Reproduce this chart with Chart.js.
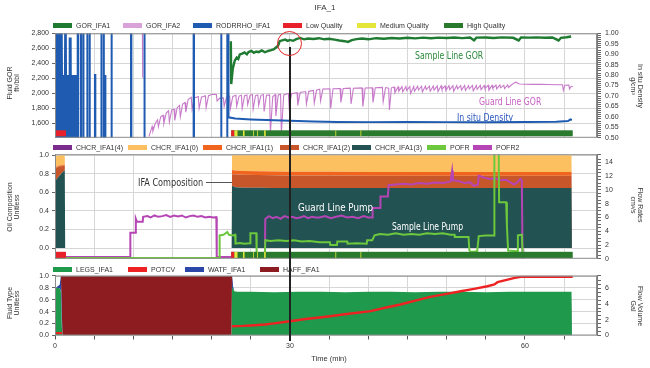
<!DOCTYPE html>
<html>
<head>
<meta charset="utf-8">
<script src="https://cdn.jsdelivr.net/npm/chart.js@4.4.1/dist/chart.umd.min.js"></script>
<style>
body{margin:0;background:#fff;width:650px;height:368px;overflow:hidden;position:relative;font-family:"Liberation Sans",Arial,sans-serif}
canvas{position:absolute;left:0}
.leg{position:absolute;font-size:7px;color:#333;line-height:7px;white-space:nowrap;z-index:2}
.leg i{position:absolute;top:1px;width:19px;height:5px}
.leg span{position:absolute;top:0}
.ytitle{position:absolute;font-size:7px;color:#333;line-height:7px;text-align:center;white-space:nowrap;z-index:2}
.note{position:absolute;font-family:"Liberation Sans Narrow","DejaVu Sans Condensed",Arial,sans-serif;font-size:11px;line-height:11px;white-space:nowrap;transform-origin:0 50%;z-index:3}
</style>
</head>
<body>
<canvas id="c1" width="650" height="124" style="top:22px"></canvas>
<canvas id="c2" width="650" height="121" style="top:146px"></canvas>
<canvas id="c3" width="650" height="101" style="top:267px"></canvas>
<script>
// ---- data (time in minutes) ----
const gorTicks = [1600, 1800, 2000, 2200, 2400, 2600, 2800];
const unitTicks = [0, 0.2, 0.4, 0.6, 0.8, 1.0];
const timeLabels = [0, 30, 60];

// GOR_IFA1 [time, ft3/bbl]
const gorIfa1 = [[22.45,2695],[22.5,2125],[22.7,2330],[22.95,2435],[23.2,2478],[23.4,2460],[23.6,2520],[23.9,2530],[24.2,2545],[24.5,2520],[24.7,2550],[25.1,2565],[25.4,2540],[25.7,2558],[26.0,2550],[26.4,2573],[26.8,2548],[27.2,2565],[27.6,2575],[27.9,2586],[28.3,2617],[28.5,2640],[28.7,2695],[29.0,2705],[29.4,2716],[29.7,2700],[30.0,2712],[30.4,2700],[30.8,2722],[31.3,2738],[31.8,2720],[32.3,2730],[33,2725],[33.7,2735],[34.4,2720],[35,2728],[35.7,2715],[36.3,2705],[37.0,2695],[37.4,2686],[37.9,2710],[38.5,2722],[39.2,2730],[40,2720],[41,2735],[42,2728],[43,2738],[44,2730],[45,2740],[46,2732],[47,2742],[48,2735],[49,2742],[50,2738],[51,2745],[52,2736],[53,2744],[53.5,2706],[53.8,2742],[55,2745],[56,2738],[57,2746],[58.5,2740],[59.2,2705],[59.5,2744],[60.5,2742],[61.5,2746],[62.5,2740],[63.5,2745],[64.3,2705],[64.6,2740],[65.3,2748],[65.9,2758]];

// GOR_IFA2 [time, ft3/bbl]
const gorIfa2 = [[11.15,2900],[11.2,2210],[11.2,null],
[12.0,1430],[12.4,1560],[12.5,1500],[12.8,1600],[13.1,1650],[13.2,1560],[13.5,1690],[13.8,1710],[13.9,1600],[14.2,1740],[14.5,1770],[14.6,1620],[14.9,1780],[15.2,1790],[15.3,1640],[15.6,1810],[15.9,1840],[16.0,1690],[16.3,1860],[16.6,1880],[16.7,1750],
[17.0,1920],[17.4,1950],[17.5,1790],[17.8,1940],[18.3,1960],[18.4,1800],[18.7,1950],[19.2,1970],[19.3,1810],[19.6,1970],[20.1,1990],[20.6,1985],[20.7,1900],[21.0,1935],[21.5,1940],[21.6,1830],[21.9,1950],[22.3,1965],[22.4,1800],[22.7,1960],
[23.1,1975],[23.2,1830],[23.5,1965],[23.8,1975],[23.9,1800],[24.2,1970],[24.5,1980],[24.6,1850],[24.9,1975],[25.2,1985],[25.3,1790],[25.6,1970],[25.9,1980],[26.0,1840],[26.3,1975],[26.6,1985],[26.7,1760],[27.0,1975],[27.4,1980],[27.5,1470],[27.8,1960],[28.1,1985],[28.2,1700],[28.5,1980],[28.8,1990],[28.9,1460],[29.2,1980],
[29.8,2000],[29.9,1820],[30.2,1995],[30.9,2010],[31.0,1840],[31.3,2012],[32.0,2025],[32.1,1860],[32.4,2028],[33.0,2040],[33.1,1870],[33.4,2045],[33.8,2055],[33.9,1900],[34.2,2058],[35.1,2062],[35.2,1800],[35.5,2062],[36.4,2066],[36.5,1880],[36.8,2066],[37.7,2070],[37.8,1860],[38.1,2070],[39.2,2074],[39.3,1825],[39.6,2072],[40.5,2076],[40.6,1880],[40.9,2076],[41.8,2080],[41.9,1890],[42.2,2078],[42.6,2070],[42.7,1780],[42.95,2075],
[43.3,2085],[43.4,2010],[43.8,2088],[43.9,2030],[44.3,2090],[44.4,2020],[44.8,2092],[44.9,2040],[45.3,2090],[45.4,2000],[45.8,2094],[45.9,2030],[46.3,2095],[46.4,2045],[46.8,2096],[46.9,2020],[47.3,2098],[47.4,2050],[47.8,2097],[47.9,2030],[48.3,2100],[48.4,2045],[48.8,2100],[48.9,2025],[49.3,2102],[49.4,2055],[49.8,2100],[49.9,2040],[50.3,2104],[50.4,2050],[50.8,2103],[50.9,2030],[51.3,2105],[51.4,2060],[51.8,2104],[51.9,2045],[52.3,2106],[52.4,2040],[52.8,2105],[52.9,2060],[53.3,2107],[53.4,2035],[53.8,2106],[53.9,2055],[54.3,2108],[54.4,2050],[54.8,2107],[54.9,2065],[55.3,2110],[55.4,2045],[55.8,2108],[55.9,2070],[56.3,2110],[56.4,2060],[56.8,2112],[56.9,2075],[57.3,2110],[57.4,2065],[57.8,2114],[57.9,2080],[58.3,2115],
[58.8,2150],[59.3,2125],[60,2122],[61,2120],[62,2120],[63,2118],[64,2116],[64.8,2115],[64.9,2040],[65.1,2110],[65.6,2112],[65.7,2060],[65.9,2095],[66.1,2090]];

// RODRRHO_IFA1 [time, g/cm3] (values off scale are clipped)
const rodrrhoIfa1 = [[0.25,0.45],[0.25,1.05],[0.35,0.45],[0.4,1.05],[0.5,0.45],[0.55,1.05],[0.65,0.45],[0.7,1.05],[0.8,0.45],[0.85,1.05],[0.95,0.45],
[1.0,0.8],[1.05,0.45],[1.1,0.8],[1.15,0.45],[1.2,0.8],[1.25,0.45],[1.3,1.05],[1.35,0.45],[1.4,1.05],[1.45,0.45],
[1.5,0.8],[1.55,0.45],[1.6,0.8],[1.65,0.45],[1.7,0.8],[1.75,0.45],[1.8,0.8],[1.85,0.45],[1.9,0.98],[1.95,0.45],[2.0,0.98],[2.05,0.45],
[2.1,0.8],[2.15,0.45],[2.2,0.8],[2.25,0.45],[2.3,0.8],[2.35,0.45],[2.4,0.8],[2.45,0.45],[2.5,0.8],[2.55,0.45],[2.6,0.8],[2.65,0.45],[2.7,0.8],[2.72,0.45],
[2.9,0.45],[2.9,1.05],[2.95,1.05],[2.95,0.45],[3.3,0.45],[3.3,1.05],[3.35,1.05],[3.35,0.45],[3.6,0.45],[3.6,1.05],[3.65,1.05],[3.65,0.45],
[4.1,0.45],[4.1,1.05],[4.15,1.05],[4.15,0.45],[4.4,0.45],[4.4,1.05],[4.45,1.05],[4.45,0.45],[5.1,0.45],[5.1,0.8],[5.15,0.8],[5.15,0.45],
[5.9,0.45],[5.9,1.05],[5.95,1.05],[5.95,0.45],[6.2,0.45],[6.2,1.05],[6.25,1.05],[6.25,0.45],[6.4,0.45],[6.4,0.8],[6.45,0.8],[6.45,0.45],
[7.2,0.45],[7.2,1.05],[7.25,1.05],[7.25,0.45],[9.7,0.45],[9.7,1.05],[9.75,1.05],[9.75,0.45],[11.4,0.45],[11.4,1.05],[11.45,1.05],[11.45,0.45],
[17.7,0.45],[17.7,1.05],[17.75,1.05],[17.75,0.45],[21.2,0.45],[21.2,1.05],[21.25,1.05],[21.25,0.45],
[22.0,0.45],[22.0,1.05],[22.1,1.05],[22.15,0.598],[23,0.592],[25,0.588],[27,0.585],[30,0.582],[33,0.578],[36,0.576],[40,0.575],[45,0.576],[50,0.575],[55,0.575],[60,0.576],[64,0.577],[65.5,0.58],[65.8,0.588],[66,0.585]];

// quality strip [start, end, level 0 low / 1 medium / 2 high]
const qualitySegments = [[0,0.1,1],[0.1,1.4,0],[22.5,66.1,2],[22.5,22.9,0],[22.9,23.3,1],[24.0,24.2,1],[25.3,25.4,1],[25.8,25.9,1],[26.7,26.9,1],[35.8,35.9,1],[39.0,39.1,1]];

// oil composition (stacked, unitless)
const compTime = [0, 0.3, 0.6, 0.9, 1.25, 1.3, 22.55, 22.6, 23.0, 24, 26, 28, 30, 35, 40, 45, 50, 55, 60, 65.95, 66.0];
const chcr3 = [0.72,0.75,0.78,0.81,0.84,0,0,0.67,0.655,0.65,0.648,0.647,0.646,0.645,0.645,0.645,0.645,0.645,0.645,0.645,0];
const chcr2 = [0.14,0.12,0.1,0.07,0.05,0,0,0.125,0.14,0.14,0.138,0.136,0.135,0.135,0.134,0.134,0.134,0.134,0.134,0.134,0];
const chcr1 = [0.01,0.01,0.01,0.01,0.01,0,0,0.045,0.04,0.04,0.04,0.04,0.04,0.04,0.04,0.04,0.04,0.04,0.04,0.04,0];
const chcr0 = [0.12,0.11,0.11,0.11,0.1,0,0,0.16,0.165,0.17,0.174,0.177,0.179,0.18,0.181,0.181,0.181,0.181,0.181,0.181,0];
const chcr4 = [0,0,0,0,0,0,0,0,0,0,0,0,0,0,0,0,0,0,0,0,0];

// POFR / POFR2 [time, cm3/s]
const pofr = [[0,0.12],[21.0,0.12],[21.02,3.4],[21.5,3.5],[22.0,3.9],[22.2,3.5],[22.8,3.4],[23.0,3.5],[23.05,2.2],[23.6,2.3],[24.2,2.2],[24.9,2.25],[24.95,3.7],[25.7,3.7],[25.75,0.1],[26.8,0.1],[26.85,2.7],[27.5,2.6],[28.5,2.7],[29.5,2.6],[30.5,2.7],[31.5,2.5],[32.5,2.6],[33.8,2.4],[35.1,2.4],[35.15,2.0],[36.0,2.0],[36.05,2.5],[37.3,2.5],[37.35,2.2],[38.5,2.25],[39.8,2.2],[39.85,2.7],[40.5,2.7],[40.8,3.4],[41.5,3.6],[42.5,3.5],[43.5,3.7],[44.5,3.5],[45.5,3.6],[46.5,3.5],[47.5,3.7],[48.5,3.6],[49.5,3.7],[50.5,3.5],[51.0,3.5],[51.05,3.15],[52.8,3.15],[52.9,1.25],[53.1,1.0],[53.9,1.1],[54.1,3.3],[55.0,3.4],[56.05,3.4],[56.1,16],[56.65,16],[56.7,8.2],[57.6,8.2],[57.7,4.8],[57.85,1.2],[59.0,1.1],[59.1,3.4],[59.6,3.5],[59.7,0.9]];
const pofr2 = [[0,0.25],[9.6,0.25],[9.62,3.8],[10.3,3.8],[10.32,5.8],[10.45,5.4],[11.2,5.4],[11.25,6.1],[11.8,6.2],[12.2,6.0],[12.7,6.3],[13.2,6.1],[13.7,6.2],[14.2,6.35],[14.7,6.1],[15.2,6.3],[15.7,6.15],[16.2,6.3],[16.7,6.0],[17.2,6.2],[17.7,6.3],[18.2,6.1],[18.7,6.2],[19.2,6.0],[19.7,6.1],[20.2,6.0],[20.6,6.05],[20.65,0.25],[26.8,0.25],[26.85,5.8],[27.3,6.2],[27.8,5.9],[28.3,6.1],[28.8,5.8],[29.3,6.2],[29.8,6.0],[30.3,6.1],[30.8,5.9],[31.3,6.0],[31.8,6.2],[32.3,5.9],[32.8,6.1],[33.3,6.0],[33.8,6.0],[34.5,6.2],[35.2,5.9],[35.9,6.1],[36.6,6.3],[37.3,6.0],[38.0,6.1],[38.7,5.9],[39.4,6.2],[40.0,6.0],[40.5,6.0],[40.55,7.4],[41.5,7.4],[41.55,9.05],[42.5,9.05],[42.6,10.7],[43.5,10.8],[44.5,10.9],[45.5,10.8],[46.5,11.0],[47.5,10.9],[48.5,11.1],[49.5,11.0],[50.5,11.2],[50.7,12.8],[50.8,11.4],[51.5,11.3],[52.3,11.0],[53.0,11.1],[53.5,10.6],[54.0,10.8],[54.1,12.1],[54.8,11.8],[55.5,11.6],[56.2,11.7],[56.9,11.4],[57.6,11.5],[58.3,11.0],[58.6,10.8],[59.0,11.1],[59.4,11.6],[59.6,11.4],[59.7,0]];

// fluid type (stacked, unitless)
const fluidTime = [0, 0.3, 0.6, 0.75, 0.85, 0.95, 22.55, 22.6, 22.7, 22.9, 23.3, 25, 28, 31, 34, 37, 40, 43, 46, 49, 52, 55, 58, 61, 64, 65.95, 66.0];
const legsIfa1 = [0.78,0.8,0.79,0.74,0.2,0,0,0.82,0.78,0.74,0.73,0.73,0.725,0.73,0.73,0.725,0.73,0.73,0.725,0.73,0.73,0.725,0.73,0.73,0.73,0.73,0];
const watfIfa1 = [0,0.02,0.06,0.26,0.3,0,0,0.18,0.06,0,0,0,0,0,0,0,0,0,0,0,0,0,0,0,0,0,0];
const haffIfa1 = [0,0,0,0,0.5,1,1,0,0,0,0,0,0,0,0,0,0,0,0,0,0,0,0,0,0,0,0];

// POTCV [time, gal]
const potcv = [[0,0.3],[0.9,0.3],[1.0,null],[22.6,1.18],[24,1.22],[25,1.28],[26.8,1.4],[28,1.55],[30,1.82],[32,2.1],[33.8,2.3],[35.1,2.45],[37,2.7],[40.3,3.1],[42,3.5],[44.1,3.95],[46,4.45],[47.9,4.93],[50,5.3],[51.8,5.64],[53.5,5.95],[55.2,6.28],[56.1,6.5],[56.5,6.79],[57.8,7.13],[58.7,7.35],[59.5,7.48],[66.1,7.48]];

const markerTime = 30;
const markerGor = 2660;

// ---- colours ----
const C = {
  gor1:'#1f7a32', gor2:'#c77ac9', gor2Leg:'#d9a3d9', rho:'#1f5bb0',
  low:'#e8202a', med:'#e6e63a', high:'#2a7a2e',
  chcr4:'#7b2d8e', chcr0:'#fdc060', chcr1:'#f0641e', chcr2:'#c7572a', chcr3:'#235252',
  pofr:'#6cc83c', pofr2:'#b545b5',
  legs:'#1f9a4c', potcv:'#ee2222', watf:'#2b48a8', haff:'#8c1c20'
};
const qualityColors = [C.low, C.med, C.high];

Chart.defaults.font.family = '"Liberation Sans", Arial, sans-serif';
Chart.defaults.font.size = 7;
Chart.defaults.color = '#333';

const outline = {
  id: 'outline',
  afterDatasetsDraw(chart) {
    const {ctx, chartArea: a} = chart;
    ctx.save();
    ctx.strokeStyle = '#8a8a8a';
    ctx.lineWidth = 1;
    ctx.strokeRect(a.left + 0.5, a.top + 0.5, a.width - 1, a.height - 1);
    ctx.restore();
  }
};

const qualityStrip = {
  id: 'quality',
  afterDatasetsDraw(chart, args, opts) {
    if (!opts.show) return;
    const {ctx, chartArea: a} = chart;
    const x = chart.scales.x;
    ctx.save();
    qualitySegments.forEach(([t0, t1, lvl]) => {
      const x0 = Math.max(x.getPixelForValue(t0), a.left + 1);
      const x1 = x.getPixelForValue(t1);
      ctx.fillStyle = qualityColors[lvl];
      ctx.fillRect(x0, a.bottom - opts.top, x1 - x0, opts.top - opts.bottom);
    });
    ctx.restore();
  }
};

function pts(arr) { return arr.map(p => ({x: p[0], y: p[1]})); }
function series(times, vals) { return vals.map((v, i) => ({x: times[i], y: v})); }

function line(label, data, color, width, axis) {
  return {label, data, borderColor: color, borderWidth: width, pointRadius: 0,
    fill: false, yAxisID: axis, tension: 0, spanGaps: false};
}
function area(label, data, color, fill) {
  return {label, data, backgroundColor: color, borderColor: 'rgba(0,0,0,0)', borderWidth: 0,
    pointRadius: 0, fill, yAxisID: 'yL', tension: 0};
}

function near(v, step) { return Math.abs(v / step - Math.round(v / step)) < 1e-6; }

function timeAxis(labels) {
  return {
    type: 'linear', min: 0, max: 69.2,
    afterBuildTicks: s => { s.ticks = s.ticks.filter(t => near(t.value, 5)); },
    ticks: labels
      ? {stepSize: 5, autoSkip: false, maxRotation: 0, padding: 2, callback: v => timeLabels.includes(v) ? String(v) : ''}
      : {stepSize: 5, display: false},
    grid: {color: '#d6d6d6', tickColor: '#555', tickLength: labels ? 4 : 0, drawTicks: !!labels},
    border: {display: false},
    afterFit: s => { s.height = labels ? 32.5 : 0; }
  };
}
function leftAxis(min, max, ticks, fmt, stacked) {
  return {
    position: 'left', min, max, stacked,
    afterBuildTicks: s => { s.ticks = ticks.map(v => ({value: v})); },
    ticks: {callback: fmt, padding: 3, autoSkip: false},
    grid: {color: '#d6d6d6', tickColor: '#666', tickLength: 3},
    border: {color: '#7a7a7a'},
    afterFit: s => { s.width = 55; }
  };
}
function rightAxis(min, max, step, every, fmt) {
  return {
    position: 'right', min, max,
    ticks: {stepSize: step, autoSkip: false, padding: 4, callback: v => near(v, every) ? fmt(v) : ''},
    grid: {drawOnChartArea: false, color: '#666', tickLength: 4},
    border: {color: '#7a7a7a'},
    afterFit: s => { s.width = 53; }
  };
}
function options(padding, scales, quality) {
  return {
    responsive: false, animation: false, events: [],
    layout: {padding},
    plugins: {legend: {display: false}, tooltip: {enabled: false}, quality},
    scales
  };
}

// ---- panel 1: GOR and density ----
const c1 = new Chart(document.getElementById('c1'), {
  type: 'line',
  data: {datasets: [
    line('GOR_IFA1', pts(gorIfa1), C.gor1, 2.4, 'yL'),
    line('RODRRHO_IFA1', pts(rodrrhoIfa1), C.rho, 2, 'yR'),
    line('GOR_IFA2', pts(gorIfa2), C.gor2, 1.1, 'yL')
  ]},
  options: options({top: 11.3, bottom: 6.5, left: 0, right: 0}, {
    x: timeAxis(false),
    yL: leftAxis(1410, 2800, gorTicks, v => v.toLocaleString('en-US'), false),
    yR: rightAxis(0.5, 1.0, 0.01, 0.05, v => v.toFixed(2))
  }, {show: true, top: 7.5, bottom: 1.5}),
  plugins: [qualityStrip, outline]
});

// ---- panel 2: oil composition and flow rates ----
const c2 = new Chart(document.getElementById('c2'), {
  type: 'line',
  data: {datasets: [
    line('POFR', pts(pofr), C.pofr, 2, 'yR'),
    line('POFR2', pts(pofr2), C.pofr2, 2, 'yR'),
    area('CHCR_IFA1(3)', series(compTime, chcr3), C.chcr3, 'origin'),
    area('CHCR_IFA1(2)', series(compTime, chcr2), C.chcr2, '-1'),
    area('CHCR_IFA1(1)', series(compTime, chcr1), C.chcr1, '-1'),
    area('CHCR_IFA1(0)', series(compTime, chcr0), C.chcr0, '-1'),
    area('CHCR_IFA1(4)', series(compTime, chcr4), C.chcr4, '-1')
  ]},
  options: options({top: 7, bottom: 7, left: 0, right: 0}, {
    x: timeAxis(false),
    yL: leftAxis(-0.116, 1.01, unitTicks, v => v.toFixed(1), true),
    yR: rightAxis(0, 15.2, 0.5, 2, v => String(v))
  }, {show: true, top: 7, bottom: 0.8}),
  plugins: [qualityStrip, outline]
});

// ---- panel 3: fluid type and flow volume ----
const c3 = new Chart(document.getElementById('c3'), {
  type: 'line',
  data: {datasets: [
    line('POTCV', pts(potcv), C.potcv, 2.4, 'yR'),
    area('LEGS_IFA1', series(fluidTime, legsIfa1), C.legs, 'origin'),
    area('WATF_IFA1', series(fluidTime, watfIfa1), C.watf, '-1'),
    area('HAFF_IFA1', series(fluidTime, haffIfa1), C.haff, '-1')
  ]},
  options: options({top: 8.7, bottom: 0, left: 0, right: 0}, {
    x: timeAxis(true),
    yL: leftAxis(0, 1, unitTicks, v => v.toFixed(1), true),
    yR: rightAxis(0, 7.62, 0.5, 2, v => String(v))
  }, {show: false}),
  plugins: [outline]
});

// ---- text, legends, marker ----
function el(cls, html, css) {
  const d = document.createElement('div');
  d.className = cls;
  d.innerHTML = html;
  Object.assign(d.style, css);
  document.body.appendChild(d);
  return d;
}
function legend(top, items) {
  items.forEach(([label, color, left]) => {
    el('leg', `<i style="left:0;background:${color}"></i><span style="left:23px">${label}</span>`,
      {left: left + 'px', top: top + 'px'});
  });
}
legend(22, [['GOR_IFA1', C.gor1, 53], ['GOR_IFA2', C.gor2Leg, 123], ['RODRRHO_IFA1', C.rho, 193],
  ['Low Quality', C.low, 283], ['Medium Quality', C.med, 357], ['High Quality', C.high, 444]]);
legend(144, [['CHCR_IFA1(4)', C.chcr4, 53], ['CHCR_IFA1(0)', C.chcr0, 128], ['CHCR_IFA1(1)', C.chcr1, 203],
  ['CHCR_IFA1(2)', C.chcr2, 280], ['CHCR_IFA1(3)', C.chcr3, 352], ['POFR', C.pofr, 427], ['POFR2', C.pofr2, 473]]);
legend(266, [['LEGS_IFA1', C.legs, 53], ['POTCV', C.potcv, 128], ['WATF_IFA1', C.watf, 185], ['HAFF_IFA1', C.haff, 260]]);

function ytitle(html, cx, cy, deg) {
  el('ytitle', html, {left: cx + 'px', top: cy + 'px', transform: `translate(-50%,-50%) rotate(${deg}deg)`});
}
ytitle('Fluid GOR<br>ft³/bbl', 13, 83, -90);
ytitle('Oil Composition<br>Unitless', 13, 207, -90);
ytitle('Fluid Type<br>Unitless', 13, 303, -90);
ytitle('In situ Density<br>g/cm³', 637, 86, 90);
ytitle('Flow Rates<br>cm³/s', 637, 205, 90);
ytitle('Flow Volume<br>Gal', 637, 306, 90);

el('ytitle', 'IFA_1', {left: '325px', top: '4px', transform: 'translateX(-50%)', fontSize: '8px'});
el('ytitle', 'Time (min)', {left: '329px', top: '355px', transform: 'translateX(-50%)', fontSize: '7.5px'});

function note(text, left, cy, width, color) {
  const d = el('note', text, {left: left + 'px', top: (cy - 5.5) + 'px', color});
  d.style.transform = `scaleX(${width / d.offsetWidth})`;
}
note('Sample Line GOR', 415, 55, 68, '#2d8a3c');
note('Guard Line GOR', 479, 101, 62, '#c862c4');
note('In situ Density', 457, 117, 56, '#2a55c0');
note('IFA Composition', 138, 182, 65, '#333');
note('Guard Line Pump', 298, 207, 75, '#ffffff');
note('Sample Line Pump', 392, 226, 71, '#ffffff');
el('ytitle', '', {left: '206px', top: '181.5px', width: '26px', height: '1px', background: '#555'});

const mx = c3.scales.x.getPixelForValue(markerTime);
const my = 22 + c1.scales.yL.getPixelForValue(markerGor);
el('ytitle', '', {left: (mx - 0.75) + 'px', top: (my + 3) + 'px', width: '1.5px', height: (341 - my - 3) + 'px', background: '#222'});
el('ytitle', '', {left: (mx - 12.5) + 'px', top: (my - 12.5) + 'px', width: '25px', height: '25px',
  border: '1.5px solid #e02424', borderRadius: '50%', boxSizing: 'border-box'});
</script>
</body>
</html>
